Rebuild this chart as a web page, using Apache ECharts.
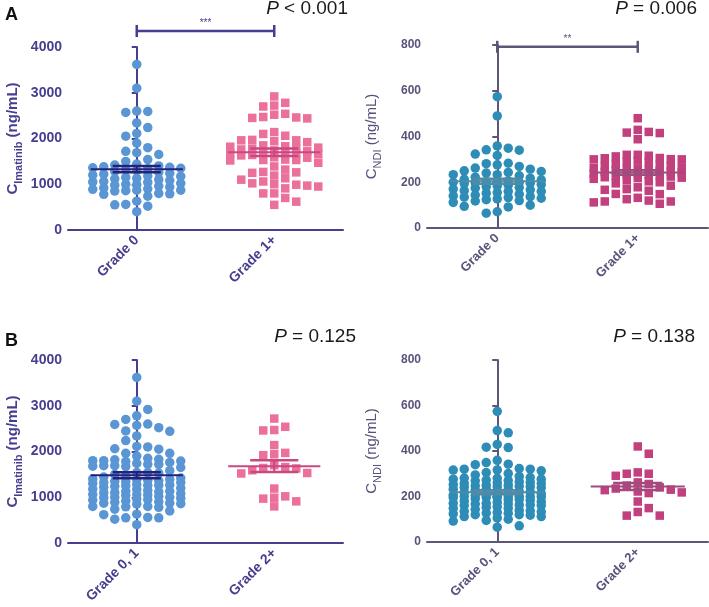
<!DOCTYPE html>
<html><head><meta charset="utf-8">
<script src="https://cdn.jsdelivr.net/npm/echarts@6.0.0/dist/echarts.min.js"></script>
<style>html,body{margin:0;padding:0;background:#fff}#c{width:709px;height:607px}</style>
</head><body><div id="c"></div>
<script>
// ---- data ----
const imatinibGrade0 = [3620, 3100, 2600, 2590, 2570, 2340, 2240, 2110, 2050, 1900, 1800, 1720, 1690, 1650, 1540, 1500, 1440, 1420, 1400, 1380, 1370, 1360, 1350, 1340, 1320, 1300, 1280, 1260, 1240, 1220, 1200, 1180, 1170, 1150, 1130, 1120, 1100, 1080, 1060, 1050, 1040, 1020, 1000, 990, 980, 960, 940, 920, 900, 890, 870, 870, 860, 850, 800, 790, 780, 740, 630, 560, 550, 520, 400];
const imatinibGrade1 = [2920, 2780, 2700, 2520, 2450, 2440, 2100, 2060, 1960, 1960, 1850, 1830, 1820, 1800, 1790, 1780, 1760, 1740, 1720, 1690, 1680, 1670, 1580, 1540, 1530, 1470, 1390, 1320, 1270, 1260, 1250, 1130, 1100, 1060, 1000, 950, 800, 700, 620, 550];
const imatinibGrade2plus = [2720, 2540, 2470, 2460, 2140, 1970, 1940, 1920, 1700, 1660, 1640, 1630, 1590, 1530, 1520, 1190, 1020, 990, 970, 910, 800];
const ndiGrade0 = [574, 490, 359, 349, 342, 340, 323, 317, 283, 281, 276, 269, 262, 257, 250, 247, 243, 240, 233, 233, 228, 222, 218, 213, 210, 206, 203, 201, 200, 199, 198, 196, 194, 190, 187, 184, 180, 177, 174, 170, 167, 163, 160, 160, 155, 152, 148, 144, 140, 137, 135, 133, 130, 127, 124, 120, 112, 100, 95, 92, 71, 65, 118];
const ndiGrade1 = [480, 429, 417, 415, 320, 320, 316, 313, 305, 301, 295, 288, 280, 276, 272, 270, 265, 260, 258, 252, 250, 245, 243, 238, 232, 225, 220, 208, 204, 200, 195, 185, 170, 167, 163, 148, 126, 120, 112, 106];
const ndiGrade2plus = [420, 388, 306, 300, 300, 291, 262, 255, 248, 240, 235, 230, 228, 222, 218, 215, 178, 149, 132, 116, 116];
const categoriesA = ['Grade 0', 'Grade 1+'];
const categoriesB = ['Grade 0, 1', 'Grade 2+'];
// mean and SEM as drawn in the reference
const meanSemImatinibA = [[1330, 70], [1700, 80]];
const meanSemNdiA = [[204, 11], [243, 10]];
const meanSemImatinibB = [[1480, 65], [1680, 130]];
const meanSemNdiB = [[219, 9], [244, 15]];
const pValueLabels = ['< 0.001', '= 0.006', '= 0.125', '= 0.138'];
const significanceLabels = ['***', '**'];
const imatinibTicks = [0, 1000, 2000, 3000, 4000];
const ndiTicks = [0, 200, 400, 600, 800];

// ---- styles / layout ----
const themes = {
  imat: {axis: '#463e8e', label: '#463e8e', dot: '#5b96d4', square: '#ec709c', lines: ['#24217b', '#c9487f'], nameWeight: 'bold', sub: 'Imatinib', fs: 14, xfs: 14},
  ndi: {axis: '#5c5777', label: '#58537a', dot: '#2e8db6', square: '#c2407e', lines: ['#4f8ba7', '#9f4b7d'], nameWeight: 'normal', sub: 'NDI', fs: 12, xfs: 13}
};
const panels = [
  {grid: {left: 68, top: 47, width: 275, height: 183}, cats: categoriesA, groups: [imatinibGrade0, imatinibGrade1.concat(imatinibGrade2plus)], ms: meanSemImatinibA, ticks: imatinibTicks, th: themes.imat, sig: significanceLabels[0], sigY: 4350, p: pValueLabels[0], pRight: 348, pBase: 15},
  {grid: {left: 427, top: 45, width: 281, height: 183}, cats: categoriesA, groups: [ndiGrade0, ndiGrade1.concat(ndiGrade2plus)], ms: meanSemNdiA, ticks: ndiTicks, th: themes.ndi, sig: significanceLabels[1], sigY: 792, p: pValueLabels[1], pRight: 697, pBase: 15},
  {grid: {left: 68, top: 360, width: 275, height: 183}, cats: categoriesB, groups: [imatinibGrade0.concat(imatinibGrade1), imatinibGrade2plus], ms: meanSemImatinibB, ticks: imatinibTicks, th: themes.imat, p: pValueLabels[2], pRight: 356, pBase: 343},
  {grid: {left: 427, top: 360, width: 281, height: 182}, cats: categoriesB, groups: [ndiGrade0.concat(ndiGrade1), ndiGrade2plus], ms: meanSemNdiB, ticks: ndiTicks, th: themes.ndi, p: pValueLabels[3], pRight: 695, pBase: 343}
];

// beeswarm on a fixed column grid (layout computed from the values)
function swarm(values, cat, pxPerUnit, bandPx, step, minDy, maxCol) {
  const sorted = values.slice().sort((a, b) => b - a);
  const cols = {};
  const out = [];
  let toggle = 1;
  const order = [0];
  for (let k = 1; k <= maxCol; k++) order.push(k, -k);
  for (const v of sorted) {
    const y = v * pxPerUnit;
    let placed = null;
    for (let k = 0; k <= maxCol && placed === null; k++) {
      const cands = k === 0 ? [0] : (toggle > 0 ? [k, -k] : [-k, k]);
      for (const c of cands) {
        const arr = cols[c] || [];
        if (arr.every(yy => Math.abs(yy - y) >= minDy)) { placed = c; break; }
      }
    }
    if (placed === null) {
      let best = -1;
      for (const c of order) {
        const arr = cols[c] || [];
        const d = arr.length ? Math.min(...arr.map(yy => Math.abs(yy - y))) : 1e9;
        if (d > best + 0.5) { best = d; placed = c; }
      }
    }
    if (placed !== 0) toggle = -toggle;
    (cols[placed] = cols[placed] || []).push(y);
    out.push([cat + placed * step / bandPx, v]);
  }
  return out;
}

const grids = [], xAxes = [], yAxes = [], series = [], graphics = [];
panels.forEach((pn, g) => {
  const th = pn.th;
  const yMax = pn.ticks[pn.ticks.length - 1];
  grids.push(pn.grid);
  xAxes.push({gridIndex: g, type: 'category', data: pn.cats, boundaryGap: true,
    axisLine: {lineStyle: {color: th.axis, width: 2}},
    axisTick: {alignWithLabel: true, length: 5, lineStyle: {color: th.axis, width: 2}},
    axisLabel: {rotate: 45, color: th.label, fontWeight: 'bold', fontSize: th.xfs, fontFamily: 'Liberation Sans', margin: 8},
    splitLine: {show: false}});
  xAxes.push({gridIndex: g, type: 'value', min: -0.5, max: 1.5, show: false});
  yAxes.push({gridIndex: g, type: 'value', min: 0, max: yMax, interval: pn.ticks[1] - pn.ticks[0],
    axisLine: {show: true, lineStyle: {color: th.axis, width: 2}},
    axisTick: {show: true, length: 5, lineStyle: {color: th.axis, width: 2}},
    axisLabel: {color: th.label, fontWeight: 'bold', fontSize: th.fs, fontFamily: 'Liberation Sans', margin: 6, formatter: v => String(v)},
    splitLine: {show: false},
    name: '{c|C}{s|' + th.sub + '}{c| (ng/mL)}', nameLocation: 'middle', nameGap: 48, nameRotate: 90,
    nameTextStyle: {rich: {
      c: {fontSize: 15, fontWeight: th.nameWeight, color: th.label, fontFamily: 'Liberation Sans'},
      s: {fontSize: 11, fontWeight: th.nameWeight, color: th.label, fontFamily: 'Liberation Sans', verticalAlign: 'bottom', padding: [0, 0, -4, 0]}
    }}});
  const pxPerUnit = pn.grid.height / yMax;
  const bandPx = pn.grid.width / 2;
  const markerColors = [th.dot, th.square];
  pn.groups.forEach((vals, i) => {
    series.push({type: 'scatter', xAxisIndex: 2 * g + 1, yAxisIndex: g,
      symbol: i === 0 ? 'circle' : 'rect', symbolSize: i === 0 ? 9.5 : 8.5,
      itemStyle: {color: markerColors[i], opacity: 1},
      data: swarm(vals, i, pxPerUnit, bandPx, 11, i === 0 ? 9 : 8.5, 4), z: 2, silent: true});
  });
  series.push({type: 'custom', xAxisIndex: 2 * g + 1, yAxisIndex: g, z: 5, silent: true,
    data: pn.ms.map((m, i) => [i, m[0], m[1]]),
    renderItem: (params, api) => {
      const x = api.value(0), m = api.value(1), s = api.value(2);
      const band = api.size([1, 0])[0];
      const c = api.coord([x, m]), t = api.coord([x, m + s]), b = api.coord([x, m - s]);
      const hw = band * 0.335, sw = band * 0.175;
      const col = th.lines[params.dataIndex];
      const L = (x1, y1, x2, y2, w) => ({type: 'line', shape: {x1, y1, x2, y2}, style: {stroke: col, lineWidth: w}});
      return {type: 'group', children: [
        L(c[0] - hw, c[1], c[0] + hw, c[1], 2),
        L(c[0] - sw, t[1], c[0] + sw, t[1], 2.5),
        L(c[0] - sw, b[1], c[0] + sw, b[1], 2.5),
        L(c[0], t[1], c[0], b[1], 2)
      ]};
    }});
  if (pn.sig) {
    series.push({type: 'custom', xAxisIndex: 2 * g + 1, yAxisIndex: g, z: 5, silent: true, clip: false,
      data: [[0, 1, pn.sigY]],
      renderItem: (params, api) => {
        const a = api.coord([api.value(0), api.value(2)]), b = api.coord([api.value(1), api.value(2)]);
        const L = (x1, y1, x2, y2) => ({type: 'line', shape: {x1, y1, x2, y2}, style: {stroke: th.axis, lineWidth: 2.5}});
        return {type: 'group', children: [
          L(a[0], a[1], b[0], b[1]), L(a[0], a[1] - 6, a[0], a[1] + 6), L(b[0], b[1] - 6, b[0], b[1] + 6),
          {type: 'text', style: {text: pn.sig, x: (a[0] + b[0]) / 2, y: a[1] - 3, align: 'center', verticalAlign: 'bottom', fill: th.axis, fontSize: 10, fontFamily: 'Liberation Sans'}}
        ]};
      }});
  }
  graphics.push({type: 'text', right: 709 - pn.pRight, top: pn.pBase - 16,
    style: {text: '{i|P} ' + pn.p, fill: '#1a1a1a', font: '19px "Liberation Sans"',
      rich: {i: {fontStyle: 'italic', fontSize: 19, fontFamily: 'Liberation Sans', fill: '#1a1a1a'}}}});
});
graphics.push({type: 'text', left: 5, top: 6, style: {text: 'A', fill: '#111', font: 'bold 18px "Liberation Sans"'}});
graphics.push({type: 'text', left: 5, top: 332, style: {text: 'B', fill: '#111', font: 'bold 18px "Liberation Sans"'}});

const chart = echarts.init(document.getElementById('c'), null, {renderer: 'canvas'});
chart.setOption({animation: false, backgroundColor: '#fff', grid: grids, xAxis: xAxes, yAxis: yAxes, series, graphic: graphics});
</script></body></html>
